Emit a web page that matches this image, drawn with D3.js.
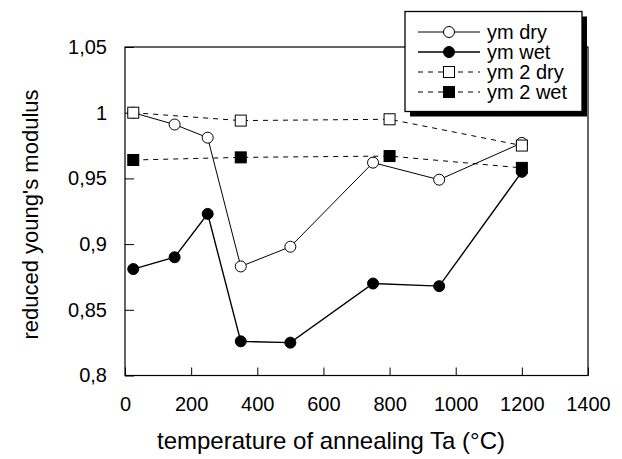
<!DOCTYPE html>
<html>
<head>
<meta charset="utf-8">
<script src="https://cdn.jsdelivr.net/npm/d3@7"></script>
<style>
  body { margin: 0; background: #fff; }
  svg { display: block; font-family: "Liberation Sans", Arial, sans-serif; }
</style>
</head>
<body>
<svg id="chart" width="622" height="459"></svg>
<script>
// temperature of annealing (°C)
const tempsA = [25, 150, 250, 350, 500, 750, 950, 1200];
const tempsB = [25, 350, 800, 1200];

// reduced young's modulus
const ymDry = [1.0, 0.991, 0.981, 0.883, 0.898, 0.962, 0.949, 0.977];
const ymWet = [0.881, 0.890, 0.923, 0.826, 0.825, 0.870, 0.868, 0.955];
const ym2Dry = [1.0, 0.994, 0.995, 0.975];
const ym2Wet = [0.964, 0.966, 0.967, 0.958];

const xTicks = [0, 200, 400, 600, 800, 1000, 1200, 1400];
const yTicks = [0.8, 0.85, 0.9, 0.95, 1, 1.05];
const yTickLabels = ["0,8", "0,85", "0,9", "0,95", "1", "1,05"];

const seriesNames = ["ym dry", "ym wet", "ym 2 dry", "ym 2 wet"];

const svg = d3.select("#chart");

// plot frame
const plotLeft = 125, plotRight = 588, plotTop = 47, plotBottom = 375.5;

const x = d3.scaleLinear().domain([0, 1400]).range([plotLeft, plotRight]);
const y = d3.scaleLinear().domain([0.8, 1.05]).range([plotBottom, plotTop]);

const series = [
  { name: seriesNames[0], xs: tempsA, ys: ymDry, marker: "circle", filled: false, dash: null, width: 1 },
  { name: seriesNames[1], xs: tempsA, ys: ymWet, marker: "circle", filled: true, dash: null, width: 1.4 },
  { name: seriesNames[2], xs: tempsB, ys: ym2Dry, marker: "square", filled: false, dash: "5,5", width: 1 },
  { name: seriesNames[3], xs: tempsB, ys: ym2Wet, marker: "square", filled: true, dash: "5,5", width: 1 }
];

// axes
const xAxis = d3.axisBottom(x)
  .tickValues(xTicks)
  .tickSizeInner(-8)
  .tickSizeOuter(0)
  .tickPadding(21)
  .tickFormat(d3.format("d"));

const yAxis = d3.axisLeft(y)
  .tickValues(yTicks)
  .tickSizeInner(-9)
  .tickSizeOuter(0)
  .tickPadding(18)
  .tickFormat((d, i) => yTickLabels[i]);

const gx = svg.append("g")
  .attr("transform", `translate(0,${plotBottom})`)
  .call(xAxis);

const gy = svg.append("g")
  .attr("transform", `translate(${plotLeft},0)`)
  .call(yAxis);

[gx, gy].forEach(g => {
  g.select(".domain").remove();
  g.selectAll(".tick line").attr("stroke", "#000").attr("stroke-width", 1);
  g.selectAll(".tick text")
    .attr("fill", "#000")
    .style("font-size", "20px")
    .style("font-family", "Liberation Sans, Arial, sans-serif");
});

// frame
svg.append("rect")
  .attr("x", plotLeft)
  .attr("y", plotTop)
  .attr("width", plotRight - plotLeft)
  .attr("height", plotBottom - plotTop)
  .attr("fill", "none")
  .attr("stroke", "#000")
  .attr("stroke-width", 1.2);

// lines
const line = d3.line().x(d => x(d[0])).y(d => y(d[1]));

series.forEach(s => {
  const pts = s.xs.map((t, i) => [t, s.ys[i]]);
  svg.append("path")
    .datum(pts)
    .attr("d", line)
    .attr("fill", "none")
    .attr("stroke", "#000")
    .attr("stroke-width", s.width)
    .attr("stroke-dasharray", s.dash);
});

function drawMarker(g, s, cx, cy) {
  if (s.marker === "circle") {
    g.append("circle")
      .attr("cx", cx).attr("cy", cy).attr("r", 5.5)
      .attr("fill", s.filled ? "#000" : "#fff")
      .attr("stroke", "#000").attr("stroke-width", 1);
  } else {
    g.append("rect")
      .attr("x", cx - 5.5).attr("y", cy - 5.5)
      .attr("width", 11).attr("height", 11)
      .attr("fill", s.filled ? "#000" : "#fff")
      .attr("stroke", "#000").attr("stroke-width", 1);
  }
}

// markers
series.forEach(s => {
  const g = svg.append("g");
  s.xs.forEach((t, i) => drawMarker(g, s, x(t), y(s.ys[i])));
});

// axis titles
svg.append("text")
  .attr("x", 331)
  .attr("y", 449)
  .attr("text-anchor", "middle")
  .style("font-size", "24px")
  .text("temperature of annealing Ta (°C)");

svg.append("text")
  .attr("transform", "translate(38,214.5) rotate(-90)")
  .attr("text-anchor", "middle")
  .style("font-size", "22px")
  .text("reduced young's modulus");

// legend with drop shadow
const lg = svg.append("g");
const lx = 405, ly = 11.5, lw = 177, lh = 100;
lg.append("rect")
  .attr("x", lx + 5).attr("y", ly + 5)
  .attr("width", lw).attr("height", lh)
  .attr("fill", "#000");
lg.append("rect")
  .attr("x", lx).attr("y", ly)
  .attr("width", lw).attr("height", lh)
  .attr("fill", "#fff")
  .attr("stroke", "#000")
  .attr("stroke-width", 1.3);

const rowY = [32, 52, 72, 92];
series.forEach((s, i) => {
  const ry = rowY[i];
  lg.append("line")
    .attr("x1", 418).attr("x2", 480)
    .attr("y1", ry).attr("y2", ry)
    .attr("stroke", "#000")
    .attr("stroke-width", s.width)
    .attr("stroke-dasharray", s.dash);
  drawMarker(lg, s, 449, ry);
  lg.append("text")
    .attr("x", 487)
    .attr("y", ry + 7)
    .style("font-size", "20px")
    .text(s.name);
});
</script>
</body>
</html>
